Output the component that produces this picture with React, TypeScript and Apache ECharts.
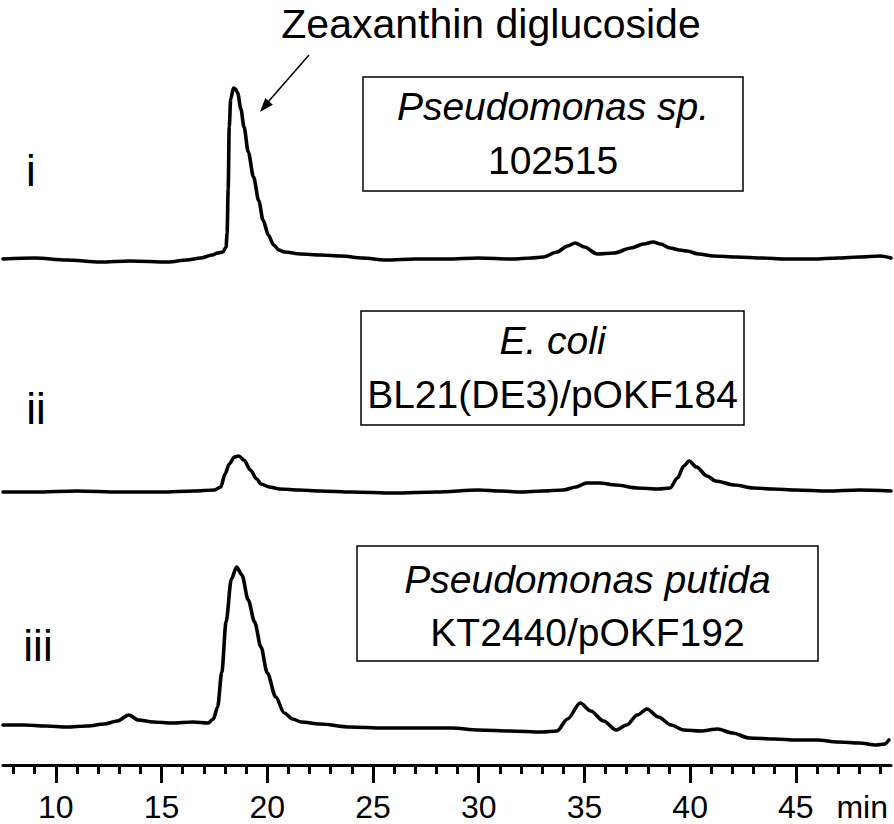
import React, { useEffect, useRef } from "react";
import * as echarts from "echarts";

// Retention time (min) and detector signal (baseline-relative, arbitrary units)
const traceITime = [7.5, 9, 10.5, 12.1, 13.5, 15.3, 16.2, 16.85, 17.4, 17.65, 17.9, 18.05, 18.1, 18.15, 18.2, 18.27, 18.4, 18.5, 18.6, 18.75, 18.9, 19.1, 19.35, 19.6, 19.8, 20.05, 20.3, 20.55, 20.8, 21.6, 22.5, 23.5, 24.5, 25.6, 27, 28.5, 30, 31.6, 32.5, 33.05, 33.7, 34.2, 34.56, 35.0, 35.6, 36.4, 37.2, 37.8, 38.25, 38.6, 39.05, 39.5, 39.85, 40.4, 41.1, 42.2, 43.4, 44.5, 45.8, 47, 48, 49.0, 49.5];
const traceISignal = [0, 1, -1, -3, -2, -3, -1, 1, 4, 6, 7, 12, 26, 70, 132, 160, 171, 170, 166, 150, 132, 107, 82, 58, 39, 24, 14, 9, 7, 5, 4, 3, 1, -1, 0, 0, 1, 0, 1, 2, 7, 13, 16, 12, 5, 6, 11, 15, 17, 15, 11, 9, 8, 5, 3, 2, 1, 0, 0, 1, 2, 3, 1];

const traceIITime = [7.5, 9, 11, 13, 15, 16.5, 17.5, 17.8, 18.0, 18.2, 18.45, 18.65, 18.9, 19.2, 19.5, 19.7, 20.1, 20.6, 21.5, 22.5, 24, 26, 28, 30, 31, 32, 33, 34, 34.6, 35.1, 35.7, 36.5, 37.5, 38.5, 39.05, 39.4, 39.7, 39.95, 40.3, 40.8, 41.2, 42.1, 43, 43.9, 45, 46.5, 48, 49.5];
const traceIISignal = [0, 0, 1, 0, 0, 1, 2, 5, 18, 28, 35, 36, 32, 22, 13, 8, 5, 3, 2, 1, 0, -1, 0, 2, 1, 0, 1, 2, 5, 9, 9, 7, 4, 3, 4, 14, 26, 31, 25, 16, 11, 7, 4, 3, 2, 1, 2, 1];

const traceIIITime = [7.5, 8.5, 9.5, 10.5, 11.5, 12.3, 12.9, 13.45, 13.9, 14.6, 15.5, 16.5, 17.2, 17.45, 17.65, 17.85, 18.05, 18.3, 18.55, 18.8, 19.1, 19.4, 19.7, 20.0, 20.4, 20.8, 21.2, 21.6, 22.5, 23.9, 25.5, 27, 28.7, 30, 31.5, 33.0, 33.7, 34.2, 34.8, 35.3, 35.9, 36.5, 37.0, 37.5, 37.96, 38.5, 39.1, 39.7, 40.5, 41.3, 42, 42.8, 44, 45, 46.0, 47, 48, 48.8, 49.2, 49.4];
const traceIIISignal = [2, 2, 1, 0, 1, 3, 6, 12, 7, 5, 4, 5, 4, 8, 20, 55, 105, 148, 160, 152, 127, 105, 80, 54, 30, 14, 8, 5, 3, 0, -1, -1, -1, -3, -4, -5, -4, 8, 24, 16, 6, -3, 2, 12, 18, 10, 2, -3, -4, -2, -6, -11, -12, -13, -13, -15, -16, -18, -17, -13];

const majorTicks = [10, 15, 20, 25, 30, 35, 40, 45];
const minorTicks = [8, 9, 10, 11, 12, 13, 14, 15, 16, 17, 18, 19, 20, 21, 22, 23, 24, 25, 26, 27, 28, 29, 30, 31, 32, 33, 34, 35, 36, 37, 38, 39, 40, 41, 42, 43, 44, 45, 46, 47, 48, 49];

const traceLabels = ["i", "ii", "iii"];
const sampleNames = [
  ["Pseudomonas sp.", "102515"],
  ["E. coli", "BL21(DE3)/pOKF184"],
  ["Pseudomonas putida", "KT2440/pOKF192"],
];
const peakName = "Zeaxanthin diglucoside";
const axisUnit = "min";

// layout (vertical stacking offsets of the traces on the hidden value axis)
const traceOffsets = [506, 273, 38];

const FONT = '"Liberation Sans", Arial, sans-serif';

export default function App() {
  const ref = useRef<HTMLDivElement>(null);
  useEffect(() => {
    if (!ref.current) return;
    const chart = echarts.init(ref.current, null, { renderer: "svg" });
    const traces = [
      [traceITime, traceISignal],
      [traceIITime, traceIISignal],
      [traceIIITime, traceIIISignal],
    ];
    const series = traces.map(([t, s], k) => ({
      type: "line",
      xAxisIndex: 0,
      yAxisIndex: 0,
      showSymbol: false,
      smooth: 0.3,
      smoothMonotone: "x",
      lineStyle: { color: "#000", width: 3.6, join: "round", cap: "round" },
      data: (t as number[]).map((x, i) => [x, (s as number[])[i] + traceOffsets[k]]),
      silent: true,
    }));

    const boxes = [
      { x: 363, y: 77, w: 380, h: 114, l1: 106, l2: 160 },
      { x: 361, y: 311, w: 383, h: 114, l1: 340, l2: 394 },
      { x: 357, y: 546, w: 461, h: 115, l1: 579, l2: 632 },
    ];
    const labelY = [170, 408, 645];
    const labelX = [31, 36, 38];

    const graphics: any[] = [];
    boxes.forEach((b, i) => {
      graphics.push({
        type: "rect",
        shape: { x: b.x, y: b.y, width: b.w, height: b.h },
        style: { fill: "#fff", stroke: "#000", lineWidth: 1.5 },
        z: 10,
      });
      graphics.push({
        type: "text",
        x: b.x + b.w / 2,
        y: b.l1,
        style: {
          text: sampleNames[i][0],
          font: `italic 39px ${FONT}`,
          fill: "#000",
          align: "center",
          verticalAlign: "middle",
          textAlign: "center",
          textVerticalAlign: "middle",
        },
        z: 11,
      });
      graphics.push({
        type: "text",
        x: b.x + b.w / 2,
        y: b.l2,
        style: {
          text: sampleNames[i][1],
          font: `39px ${FONT}`,
          fill: "#000",
          align: "center",
          verticalAlign: "middle",
          textAlign: "center",
          textVerticalAlign: "middle",
        },
        z: 11,
      });
      graphics.push({
        type: "text",
        x: labelX[i],
        y: labelY[i],
        style: {
          text: traceLabels[i],
          font: `44px ${FONT}`,
          fill: "#000",
          align: "center",
          verticalAlign: "middle",
          textAlign: "center",
          textVerticalAlign: "middle",
        },
        z: 11,
      });
    });
    graphics.push({
      type: "text",
      x: 491,
      y: 24,
      style: {
        text: peakName,
        font: `41px ${FONT}`,
        fill: "#000",
        align: "center",
        verticalAlign: "middle",
        textAlign: "center",
        textVerticalAlign: "middle",
      },
    });
    graphics.push({
      type: "line",
      shape: { x1: 309, y1: 55, x2: 268, y2: 102 },
      style: { stroke: "#000", lineWidth: 1.5 },
    });
    graphics.push({
      type: "polygon",
      shape: { points: [[260, 112], [272.9, 104.7], [265.3, 98.1]] },
      style: { fill: "#000" },
    });
    graphics.push({
      type: "text",
      x: 888,
      y: 807,
      style: {
        text: axisUnit,
        font: `32px ${FONT}`,
        fill: "#000",
        align: "right",
        verticalAlign: "middle",
        textAlign: "right",
        textVerticalAlign: "middle",
      },
    });

    chart.setOption({
      animation: false,
      backgroundColor: "#fff",
      grid: { left: 3, right: 3, top: 0, bottom: 59, containLabel: false },
      xAxis: [
        {
          type: "value",
          min: 7.5,
          max: 49.5,
          position: "bottom",
          axisLine: { show: true, lineStyle: { color: "#000", width: 3 } },
          axisTick: { show: true, customValues: majorTicks, length: 18, lineStyle: { color: "#000", width: 3 } },
          axisLabel: { show: true, customValues: majorTicks, fontSize: 32, color: "#000", margin: 26, fontFamily: FONT },
          splitLine: { show: false },
        },
        {
          type: "value",
          min: 7.5,
          max: 49.5,
          position: "bottom",
          axisLine: { show: false },
          axisTick: { show: true, customValues: minorTicks, length: 9, lineStyle: { color: "#000", width: 3 } },
          axisLabel: { show: false },
          splitLine: { show: false },
        },
      ],
      yAxis: { type: "value", min: 0, max: 765, show: false },
      series,
      graphic: graphics,
    });
    return () => chart.dispose();
  }, []);
  return (
    <div
      ref={ref}
      style={{ position: "absolute", left: 0, top: 0, width: 894, height: 824 }}
    />
  );
}
